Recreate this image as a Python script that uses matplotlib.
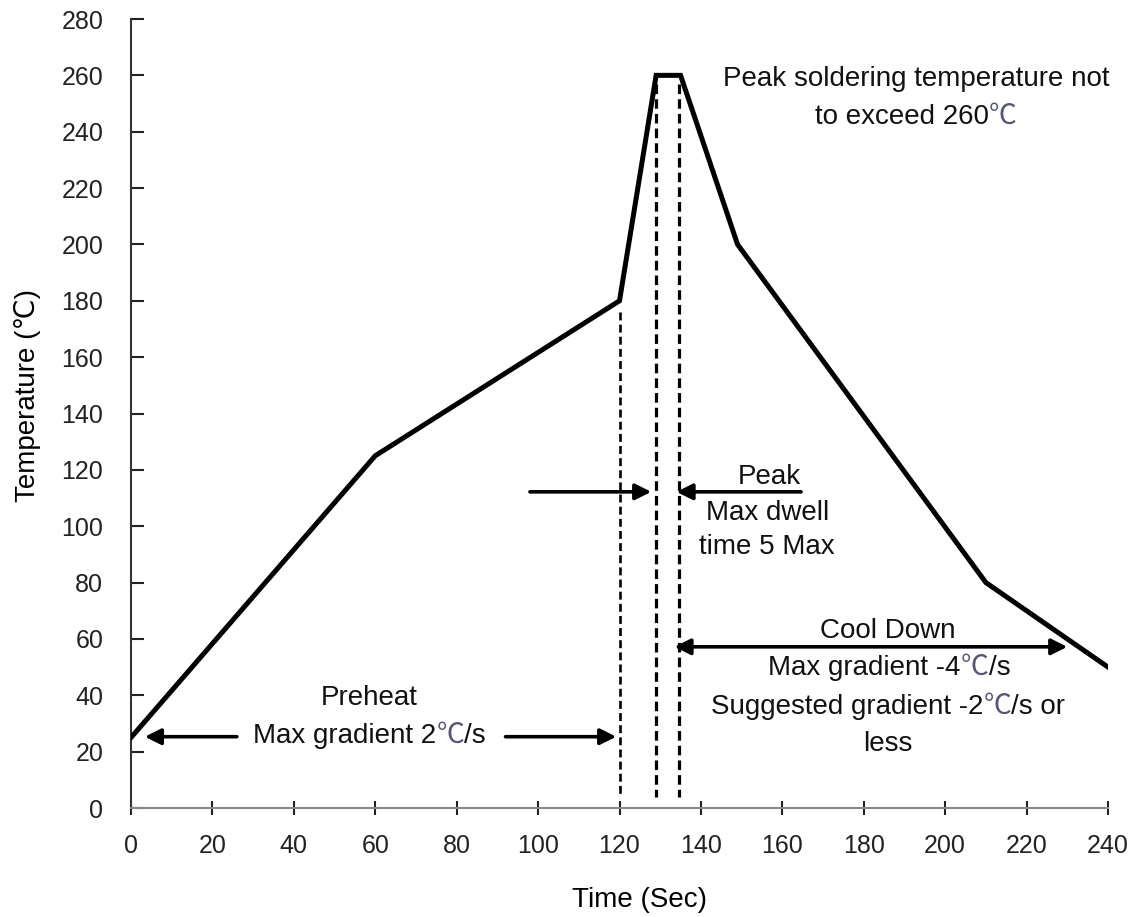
import matplotlib
matplotlib.use("Agg")
import matplotlib.pyplot as plt
from matplotlib.transforms import IdentityTransform

LATIN = ['Liberation Sans', 'DejaVu Sans']
CJK = ['Noto Sans CJK SC', 'DejaVu Sans']
plt.rcParams['font.family'] = LATIN

# Reflow profile data
time_s = [0, 60, 120, 129, 135, 149, 210, 240]
temp_c = [25, 125, 180, 260, 260, 200, 80, 50]

x_ticks = list(range(0, 241, 20))
y_ticks = list(range(0, 281, 20))

# Guide lines (dashed verticals): x, y top
guide_x = [120, 129, 134.5]
guide_top = [176, 257, 257]

FS = 20

fig = plt.figure(figsize=(11.41, 9.17), dpi=100)
ax = fig.add_axes([131/1141, 1-808/917, (1108-131)/1141, (808-19)/917])

ax.plot(time_s, temp_c, color='black', lw=3.6, solid_joinstyle='miter', zorder=3)

for gx, gt, lw in zip(guide_x, guide_top, [1.9, 2.3, 2.3]):
    ax.plot([gx, gx], [gt, 4], color='black', lw=lw, linestyle=(0, (3, 1.6)), zorder=2)

ax.set_xlim(0, 240)
ax.set_ylim(0, 280)
ax.set_xticks(x_ticks)
ax.set_yticks(y_ticks)
ax.tick_params(axis='x', direction='inout', length=10, width=1.5, labelsize=18, pad=14, colors='#222222')
ax.tick_params(axis='y', direction='in', length=9, width=1.5, labelsize=18, pad=20, colors='#222222')
for s in ['top', 'right']:
    ax.spines[s].set_visible(False)
ax.spines['left'].set_color('#333333')
ax.spines['left'].set_linewidth(1.5)
ax.spines['bottom'].set_color('#888888')
ax.spines['bottom'].set_linewidth(1.5)

renderer = fig.canvas.get_renderer()


def mixed_text(x, y, s, fs=FS):
    """Centered text at data (x, y-center); ℃ drawn in CJK font."""
    pieces = []
    buf = ''
    for ch in s:
        if ch == '℃':
            if buf:
                pieces.append((buf, LATIN))
                buf = ''
            pieces.append((ch, CJK))
        else:
            buf += ch
    if buf:
        pieces.append((buf, LATIN))
    px, py = ax.transData.transform((x, y))
    py -= 0.346 * fs * 100 / 72  # baseline from visual center
    arts, widths = [], []
    for txt, fam in pieces:
        t = fig.text(0, 0, txt, family=fam, fontsize=fs, ha='left', va='baseline',
                     transform=IdentityTransform(), color='#111111' if fam is LATIN else '#555577')
        arts.append(t)
        widths.append(t.get_window_extent(renderer).width)
    cur = px - sum(widths) / 2
    for t, w in zip(arts, widths):
        t.set_position((cur, py))
        cur += w


fig.text(28/1141, 1-395/917, 'Temperature (℃)', rotation=90, ha='center', va='center', fontsize=FS)
fig.text(640/1141, 1-900/917, 'Time (Sec)', ha='center', va='center', fontsize=FS)

arrow_kw = dict(arrowstyle='-|>', color='black', lw=2.6, mutation_scale=24, shrinkA=0, shrinkB=0)

# Preheat
ax.annotate('', xy=(3.4, 25.3), xytext=(26, 25.3), arrowprops=arrow_kw)
ax.annotate('', xy=(119.2, 25.3), xytext=(92, 25.3), arrowprops=arrow_kw)
mixed_text(58.6, 40, 'Preheat')
mixed_text(58.6, 26.5, 'Max gradient 2℃/s')

# Peak
ax.annotate('', xy=(127.8, 112.2), xytext=(98, 112.2), arrowprops=arrow_kw)
ax.annotate('', xy=(134, 112.2), xytext=(164.6, 112.2), arrowprops=arrow_kw)
mixed_text(156.8, 118.5, 'Peak')
mixed_text(156.3, 105.7, 'Max dwell')
mixed_text(156.3, 93.5, 'time 5 Max')

# Cool down
cd_kw = dict(arrowstyle='<|-|>', color='black', lw=2.6, mutation_scale=24, shrinkA=0, shrinkB=0)
ax.annotate('', xy=(230, 57.2), xytext=(133.5, 57.2), arrowprops=cd_kw)
mixed_text(186, 63.8, 'Cool Down')
mixed_text(186.3, 50.5, 'Max gradient -4℃/s')
mixed_text(186, 36.8, 'Suggested gradient -2℃/s or')
mixed_text(186, 23.5, 'less')

# Peak soldering note
mixed_text(192.8, 259.5, 'Peak soldering temperature not')
mixed_text(192.8, 246.3, 'to exceed 260℃')

fig.savefig('out.png', dpi=100)
